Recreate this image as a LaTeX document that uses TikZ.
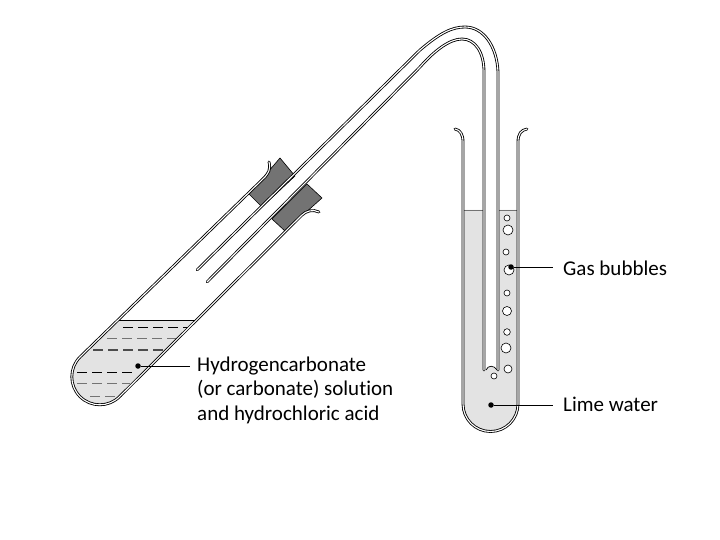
\documentclass[tikz,border=0pt]{standalone}
\usepackage{fontspec}
\setmainfont[Ligatures=NoCommon]{Carlito}
\begin{document}
\begin{tikzpicture}[
    x=1pt, y=-1pt,
    wall/.style={
        draw=black,
        line width=0.85pt,
        double=white,
        double distance=1.1pt,
        line cap=round
    },
    label/.style={
        anchor=west,
        align=left,
        inner sep=0pt,
        font=\fontsize{21}{24.5}\selectfont
    },
    dot/.style={
        circle,
        fill=black,
        inner sep=0pt,
        minimum size=5.5pt
    },
    leader/.style={
        draw=black,
        line width=1pt
    },
    bubble/.style={
        draw=black,
        fill=white,
        line width=0.6pt
    },
    bung/.style={
        draw=black,
        fill=black!55,
        line width=0.6pt
    },
    ripple/.style={
        line width=0.8pt,
        dash pattern=on 10pt off 5pt
    }
]
    \useasboundingbox (0,0) rectangle (720,540);

    % liquid in the slanted tube
    \fill[black!11] (118,320) -- (197,320) -- (120,397)
        arc[start angle=45, end angle=225, radius=28] -- cycle;
    \draw[black, line width=0.8pt] (118,320) -- (197,320);
    \draw[ripple, black] (123,327) -- (188,327);
    \draw[ripple, black!55] (107,338) -- (178,338);
    \draw[ripple, black!70, line width=1.1pt] (93,350) -- (168,350);
    \draw[ripple, black] (77,372) -- (135,372);
    \draw[ripple, black!55] (77,383) -- (130,383);
    \draw[ripple, black!55] (90,396) -- (122,396);

    % slanted tube with its two bungs
    \draw[bung] (280,158) -- (295,176) -- (262,207) -- (249,194) -- cycle;
    \draw[bung] (307,184) -- (322,198) -- (285,231) -- (272,219) -- cycle;
    \draw[wall] (269,162) .. controls (271,170) and (268,173) .. (265,177)
        -- (80,357) arc[start angle=225, end angle=45, radius=28]
        -- (302,215) .. controls (306,211) and (313,209) .. (319,212);

    % liquid in the upright tube
    \fill[black!11] (463,210) -- (518,210) -- (518,404)
        arc[start angle=0, end angle=180, radius=27.5] -- cycle;
    \draw[black!55, line width=0.8pt] (463,210) -- (518,210);

    % bubbles
    \foreach \bx/\by/\br in {507/218/3, 508/230/5, 506/252/3, 509/270/5, 507/293/3,
        507/311/4.5, 507/332/3.3, 506/348/5, 508/369/4, 494/376/3}
        \draw[bubble] (\bx,\by) circle[radius=\br];

    % delivery tube
    \fill[white] (484,205) rectangle (498,370);
    \fill[black!11] (484,371) -- (486,370) .. controls (488,365) and (494,365) .. (497,370)
        -- (498,371) -- cycle;
    \draw[black, line width=0.7pt] (486,370) .. controls (488,365) and (494,365) .. (497,370);
    \draw[wall] (197,270) -- (420,50) .. controls (440,33) and (452,27) .. (465,27)
        .. controls (484,27) and (497,47) .. (498,72) -- (498,370);
    \draw[wall] (207,282) -- (420,67) .. controls (435,50) and (450,39) .. (462,39)
        .. controls (475,39) and (484,52) .. (484,72) -- (484,370);

    % upright tube
    \draw[wall] (455,129) .. controls (460,130) and (463,134) .. (463,142)
        -- (463,404) arc[start angle=180, end angle=0, radius=27.5]
        -- (518,142) .. controls (518,134) and (521,130) .. (527,129);

    % labels
    \node[dot] (dotacid) at (138,366) {};
    \node[dot] (dotgas) at (511,267) {};
    \node[dot] (dotlime) at (491,405) {};
    \node[label] (labelacid) at (197,390)
        {Hydrogencarbonate\\(or carbonate) solution\\and hydrochloric acid};
    \node[label] (labelgas) at (563,268) {Gas bubbles};
    \node[label] (labellime) at (563,404) {Lime water};
    \coordinate (endacid) at (190,366);
    \coordinate (endgas) at (553,267);
    \coordinate (endlime) at (553,405);
    \draw[leader] (dotacid) -- (endacid);
    \draw[leader] (dotgas) -- (endgas);
    \draw[leader] (dotlime) -- (endlime);
\end{tikzpicture}
\end{document}
